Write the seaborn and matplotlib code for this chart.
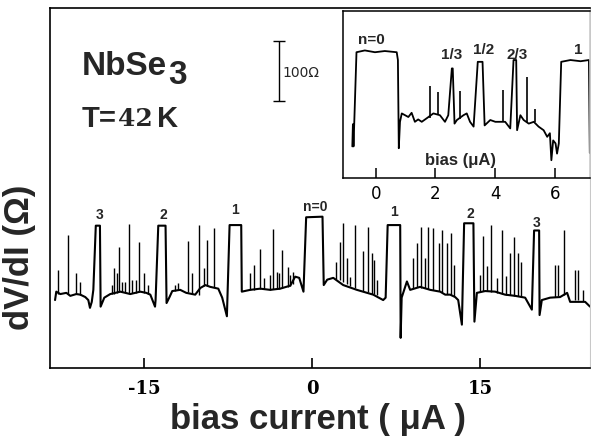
import matplotlib
matplotlib.use("Agg")
import matplotlib.pyplot as plt
import seaborn as sns
from matplotlib import font_manager

# ---- main trace: bias current (uA) vs dV/dI (ohm, arbitrary zero) ----
main_i = [-22.97, -22.86, -22.5, -21.96, -21.61, -21.07, -20.71, -20.27, -20.0, -19.85,
          -19.69, -19.55, -19.33, -18.96, -18.90, -18.57, -18.04, -17.14, -16.25, -15.36,
          -14.82, -14.46, -14.04, -13.99, -13.75, -13.10, -13.01, -12.77, -12.5, -11.79,
          -11.25, -10.45, -10.0, -9.55, -9.11, -8.39, -8.04, -7.62, -7.38, -6.34,
          -6.29, -5.54, -4.64, -3.75, -2.86, -1.96, -1.52, -1.16, -0.78, -0.54,
          0.92, 1.03, 1.34, 1.88, 2.77, 3.99, 5.45, 6.34, 6.56, 6.74,
          7.86, 7.90, 7.99, 8.46, 8.75, 9.64, 10.54, 11.43, 11.88, 12.32,
          12.77, 13.04, 13.37, 13.57, 14.40, 14.49, 14.71, 15.45, 16.34, 17.23,
          18.13, 19.02, 19.62, 19.82, 20.27, 20.31, 20.51, 21.25, 22.14, 22.77,
          23.04, 24.38, 24.82]
main_r = [113, 127, 123, 125, 120, 123, 122, 118, 113, 100,
          110, 130, 237, 237, 102, 117, 123, 127, 123, 127,
          125, 122, 102, 113, 237, 237, 108, 117, 128, 130,
          125, 122, 133, 138, 135, 132, 117, 86, 238, 238,
          127, 130, 132, 130, 132, 137, 152, 150, 127, 251,
          252, 138, 147, 150, 138, 130, 122, 113, 117, 238,
          238, 50, 117, 144, 130, 135, 130, 127, 122, 122,
          118, 113, 72, 241, 241, 77, 125, 128, 127, 122,
          120, 117, 97, 229, 229, 88, 113, 117, 118, 125,
          110, 110, 102]

# narrow resonance spikes on the background
spike_i = [-22.74, -21.79, -21.10, -20.71, -17.92, -17.68, -17.47, -17.26, -16.96, -16.72,
           -16.37, -16.13, -15.78, -15.47, -15.0, -14.71,
           -12.26, -11.96, -11.13, -10.74, -10.15, -9.64, -9.40, -8.81,
           -5.54, -5.18, -4.64, -4.29, -3.81, -3.46, -3.15, -2.95, -2.68, -2.17, -1.96, -1.72,
           2.14, 2.44, 2.74, 3.10, 3.39, 3.84, 4.53, 4.97, 5.33, 5.56, 5.78,
           8.99, 9.35, 9.73, 10.04, 10.36, 10.80, 11.29, 11.61, 12.03, 12.41, 12.68,
           15.0, 15.29, 15.58, 15.94, 16.49, 16.94, 17.29, 17.68, 18.04, 18.39, 18.66,
           21.70, 21.99, 22.46, 23.48, 23.71, 24.20]
spike_top = [163, 222, 158, 143, 138, 167, 158, 202, 143, 143, 240, 147, 147, 210, 158, 138,
             138, 142, 211, 158, 238, 167, 213, 233,
             158, 172, 198, 150, 155, 232, 160, 158, 197, 168, 155, 160,
             177, 209, 241, 183, 152, 238, 194, 235, 191, 180, 147,
             183, 208, 235, 183, 235, 233, 208, 230, 208, 225, 172,
             155, 219, 169, 238, 150, 230, 153, 192, 218, 192, 177,
             172, 172, 230, 163, 163, 130]
spike_base = [123, 123, 123, 122, 123, 123, 125, 127, 127, 127, 125, 125, 125, 127, 125, 123,
              128, 130, 127, 123, 122, 137, 137, 135,
              130, 130, 132, 132, 130, 132, 132, 132, 133, 135, 137, 140,
              148, 147, 143, 140, 137, 133, 128, 127, 123, 123, 122,
              133, 135, 133, 133, 132, 130, 128, 127, 123, 122, 120,
              127, 128, 128, 127, 125, 123, 122, 122, 120, 120, 118,
              118, 120, 122, 113, 113, 112]

step_labels = ['3', '2', '1', 'n=0', '1', '2', '3']
step_i = [-19.02, -13.33, -6.88, 0.27, 7.35, 14.11, 20.0]
step_r = [255, 255, 263, 268, 260, 257, 242]

main_ticks = [-15, 0, 15]
main_tick_labels = ['-15', '0', '15']

# ---- inset: fractional steps ----
inset_i = [-0.79, -0.77, -0.75, -0.65, -0.37, -0.03, 0.30, 0.70, 0.74, 0.77,
           0.81, 0.87, 0.98, 1.09, 1.20, 1.31, 1.42, 1.54, 1.71, 1.93,
           2.15, 2.32, 2.43, 2.55, 2.58, 2.64, 2.72, 2.94, 3.05, 3.16,
           3.28, 3.42, 3.58, 3.65, 3.84, 4.01, 4.12, 4.34, 4.51, 4.62,
           4.71, 4.74, 4.85, 4.96, 5.13, 5.30, 5.46, 5.63, 5.75, 5.84,
           5.89, 5.95, 6.03, 6.08, 6.14, 6.22, 6.53, 6.87, 7.15, 7.18]
inset_r = [53, 90, 53, 210, 213, 210, 212, 210, 197, 50,
           94, 108, 105, 102, 109, 94, 98, 94, 100, 108,
           105, 94, 105, 183, 183, 91, 97, 105, 108, 94,
           86, 194, 194, 88, 97, 94, 94, 94, 83, 197,
           197, 80, 105, 97, 91, 94, 86, 80, 69, 75,
           30, 63, 58, 41, 58, 194, 197, 195, 197, 42]
ins_spike_i = [1.82, 2.08, 2.83, 4.25, 5.07, 5.35]
ins_spike_top = [153, 144, 146, 147, 169, 116]
ins_spike_base = [100, 106, 99, 94, 93, 93]

inset_labels = ['n=0', '1/3', '1/2', '2/3', '1']
inset_lab_i = [-0.14, 2.55, 3.61, 4.74, 6.78]
inset_lab_r = [230, 205, 213, 205, 213]
inset_ticks = [0, 2, 4, 6]

# 100 ohm scale bar
scale_i = -3.0
scale_mid = 495
scale_half = 50


sns.set_theme(style="ticks")
names = {f.name for f in font_manager.fontManager.ttflist}
narrow = 'Liberation Sans Narrow' if 'Liberation Sans Narrow' in names else 'Liberation Sans'
plt.rcParams['font.family'] = [narrow, 'DejaVu Sans']
plt.rcParams['axes.edgecolor'] = 'black'
plt.rcParams['axes.linewidth'] = 1.2

fig = plt.figure(figsize=(5.91, 4.40), dpi=100)
ax = fig.add_axes([0.085, 0.164, 0.914, 0.818])

sns.lineplot(x=main_i, y=main_r, sort=False, estimator=None, color='black',
             linewidth=1.5, ax=ax)
ax.vlines(spike_i, spike_base, spike_top, color='black', linewidth=1.0)
for lab, xi, yi in zip(step_labels, step_i, step_r):
    ax.text(xi, yi, lab, ha='center', va='center', fontsize=10, fontweight='bold')

ax.errorbar([scale_i], [scale_mid], yerr=[scale_half], fmt='none', ecolor='black',
            elinewidth=1.0, capsize=4, capthick=1.0)
ax.text(scale_i + 0.32, scale_mid - 3, '100Ω', ha='left', va='center', fontsize=10,
        family='DejaVu Sans')

ax.set_xlim(-23.4, 24.85)
ax.set_ylim(0, 600)
ax.set_xticks(main_ticks)
ax.set_xticklabels(main_tick_labels, family='DejaVu Serif', fontweight='bold', fontsize=13)
ax.set_yticks([])
ax.tick_params(axis='x', direction='in', length=7, width=1.2, pad=9, colors='black')
ax.spines['right'].set_color('#c8c8c8')
ax.spines['right'].set_linewidth(0.8)

ax.set_xlabel('bias current ( μA )', fontsize=25, fontweight='bold', va='center')
ax.xaxis.set_label_coords(0.496, -0.144)
ax.set_ylabel('dV/dI (Ω)', fontsize=25, fontweight='bold', va='center')
ax.yaxis.set_label_coords(-0.056, 0.306)

# sample annotations
t1 = ax.text(0.059, 0.836, 'NbSe', transform=ax.transAxes, fontsize=24,
             fontweight='bold', va='center', ha='left')
ax.annotate('3', xy=(1.0, 0.5), xycoords=t1, xytext=(1, -6), textcoords='offset points',
            fontsize=24, fontweight='bold', va='center', ha='left')
t2 = ax.text(0.059, 0.69, 'T=', transform=ax.transAxes, fontsize=21,
             fontweight='bold', va='center', ha='left')
t3 = ax.annotate('42', xy=(1.0, 0.5), xycoords=t2, xytext=(1, 0), textcoords='offset points',
                 fontsize=18, fontweight='bold', family='DejaVu Serif', va='center', ha='left')
ax.annotate('K', xy=(1.0, 0.5), xycoords=t3, xytext=(3, 0), textcoords='offset points',
            fontsize=21, fontweight='bold', va='center', ha='left')

# inset
ins = fig.add_axes([0.580, 0.595, 0.419, 0.379])
sns.lineplot(x=inset_i, y=inset_r, sort=False, estimator=None, color='black',
             linewidth=1.3, ax=ins)
ins.vlines(ins_spike_i, ins_spike_base, ins_spike_top, color='black', linewidth=1.2)
for lab, xi, yi in zip(inset_labels, inset_lab_i, inset_lab_r):
    ins.text(xi, yi, lab, ha='center', va='center', fontsize=11, fontweight='bold')
ins.text(2.83, 30, 'bias (μA)', ha='center', va='center', fontsize=12, fontweight='bold')
ins.set_xlim(-1.11, 7.2)
ins.set_ylim(0, 278)
ins.set_xticks(inset_ticks)
ins.set_xticklabels([str(t) for t in inset_ticks], family='DejaVu Sans', fontsize=12)
ins.set_yticks([])
ins.tick_params(axis='x', direction='in', length=7, width=1.1, pad=5, colors='black')
ins.set_xlabel('')
ins.set_ylabel('')
for s in ins.spines.values():
    s.set_linewidth(1.1)
ins.spines['right'].set_color('#c8c8c8')
ins.patch.set_alpha(0)

fig.savefig('out.png', dpi=100, facecolor='white')
